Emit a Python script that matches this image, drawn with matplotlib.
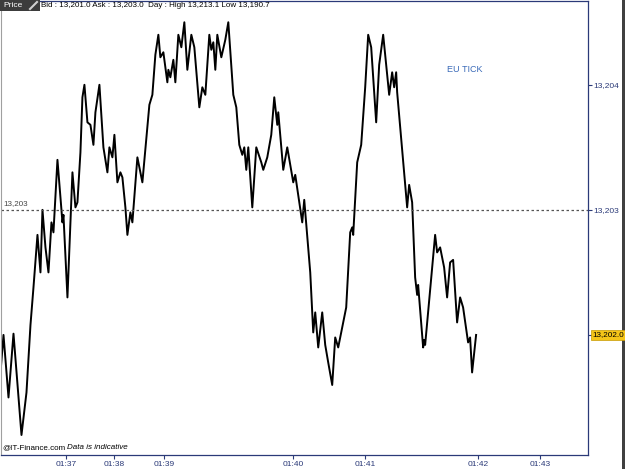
import matplotlib
matplotlib.use("Agg")
import matplotlib.pyplot as plt
import matplotlib.transforms as mtransforms
from matplotlib.patches import Rectangle

# tick number (x) and price
ticks = [0, 3, 8, 13, 21, 26, 30, 33, 37, 40, 42, 45, 48, 51, 53, 57, 62, 63, 67,
         72, 75, 77, 80, 82, 84, 87, 90, 93, 95, 99, 103, 107, 109, 112, 114, 117,
         120, 122, 125, 127, 130, 132, 137, 142, 149, 152, 155, 158, 160, 163, 167,
         168, 170, 173, 175, 178, 181, 184, 187, 191, 194, 199, 202, 205, 209, 211,
         213, 215, 217, 221, 225, 228, 233, 236, 239, 242, 244, 246, 248, 252, 256,
         261, 263, 267, 271, 274, 277, 278, 283, 287, 293, 295, 299, 302, 304, 310,
         313, 315, 318, 322, 325, 328, 332, 335, 338, 343, 346, 350, 352, 353, 357,
         361, 365, 368, 371, 376, 379, 383, 387, 389, 392, 394, 396, 397, 407, 409,
         412, 415, 417, 418, 423, 424, 425, 435, 437, 440, 444, 447, 450, 453, 457,
         460, 463, 468, 470, 472, 476]
prices = [13201.70, 13202.00, 13201.50, 13202.01, 13201.20, 13201.54, 13202.08,
          13202.38, 13202.80, 13202.50, 13203.00, 13202.70, 13202.50, 13202.90,
          13202.82, 13203.40, 13202.90, 13202.96, 13202.30, 13203.30, 13203.02,
          13203.06, 13203.46, 13203.90, 13204.00, 13203.70, 13203.68, 13203.52,
          13203.78, 13204.00, 13203.50, 13203.30, 13203.50, 13203.42, 13203.60,
          13203.22, 13203.30, 13203.26, 13203.02, 13202.80, 13202.98, 13202.90,
          13203.42, 13203.22, 13203.84, 13203.92, 13204.24, 13204.40, 13204.22,
          13204.26, 13204.02, 13204.12, 13204.06, 13204.20, 13204.02, 13204.40,
          13204.30, 13204.50, 13204.12, 13204.40, 13204.30, 13203.82, 13203.98,
          13203.92, 13204.40, 13204.28, 13204.34, 13204.12, 13204.40, 13204.22,
          13204.36, 13204.50, 13203.92, 13203.82, 13203.52, 13203.44, 13203.50,
          13203.32, 13203.50, 13203.02, 13203.50, 13203.38, 13203.32, 13203.42,
          13203.60, 13203.90, 13203.68, 13203.78, 13203.32, 13203.50, 13203.22,
          13203.28, 13203.06, 13202.90, 13203.08, 13202.50, 13202.02, 13202.18,
          13201.90, 13202.18, 13201.92, 13201.78, 13201.60, 13201.98, 13201.90,
          13202.10, 13202.22, 13202.82, 13202.86, 13202.80, 13203.38, 13203.52,
          13203.98, 13204.40, 13204.30, 13203.70, 13204.16, 13204.40, 13204.08,
          13203.92, 13204.10, 13203.98, 13204.10, 13203.94, 13203.02, 13203.20,
          13203.06, 13202.46, 13202.32, 13202.40, 13201.90, 13201.96, 13201.92,
          13202.80, 13202.66, 13202.70, 13202.54, 13202.30, 13202.58, 13202.60,
          13202.10, 13202.30, 13202.22, 13201.94, 13201.98, 13201.70, 13202.00]

time_pos = [66, 114, 164, 293, 365, 478, 540]
time_labels = ["01:37", "01:38", "01:39", "01:40", "01:41", "01:42", "01:43"]
price_ticks = [13202, 13203, 13204]
price_labels = ["", "13,203", "13,204"]
last_price = 13202.0
ref_price = 13203
header = "Bid : 13,201.0 Ask : 13,203.0  Day : High 13,213.1 Low 13,190.7"

plt.rcParams["font.family"] = ["Liberation Sans", "DejaVu Sans"]
navy = "#2b3a78"

W, H = 625, 469
fig = plt.figure(figsize=(W / 100, H / 100), dpi=100)
fig.patch.set_facecolor("white")
ax = fig.add_axes([0.5 / W, (H - 455) / H, 587.5 / W, 454 / H])

ax.plot(ticks, prices, color="black", linewidth=1.4)
ax.axhline(ref_price, color="#555555", linewidth=0.9, linestyle=(0, (2, 2)))
ax.text(3, ref_price + 0.02, "13,203", fontsize=5.8, color="#444444",
        ha="left", va="bottom")
ax.text(447, 13204.12, "EU TICK", fontsize=6.5, color="#3a6ab8",
        ha="left", va="center")

ax.set_xlim(0, 588)
ax.set_ylim(13201.04, 13204.67)

ax.set_xticks(time_pos, time_labels)
ax.yaxis.tick_right()
ax.set_yticks(price_ticks, price_labels)
ax.tick_params(direction="out", length=3, width=0.8, colors=navy,
               labelsize=6.0, pad=1.5)
ax.tick_params(axis="y", pad=1)
for side in ["top", "right", "bottom"]:
    ax.spines[side].set_color(navy)
    ax.spines[side].set_linewidth(0.9)
ax.spines["left"].set_color("#a0a0a0")

# last price marker on the right scale
trans = mtransforms.blended_transform_factory(ax.transAxes, ax.transData)
ax.text(1.0 + 4 / 587.5, last_price, "13,202.0", transform=trans, fontsize=5.9,
        color="black", ha="left", va="center", zorder=5,
        bbox=dict(boxstyle="square,pad=0.15", fc="#f5c518", ec="#c89a00", lw=0.5))

ax.text(2, 13201.04 + 0.03, "@IT-Finance.com", fontsize=5.8, color="black",
        ha="left", va="bottom")
ax.text(67, 13201.04 + 0.03, "Data is indicative", fontsize=5.8, color="black",
        style="italic", ha="left", va="bottom")

# header bar
fig.add_artist(Rectangle((0, (H - 11) / H), 40 / W, 11 / H,
                         transform=fig.transFigure, fc="#3c3c3c", ec="none"))
fig.text(3 / W, (H - 5.5) / H, "Price", fontsize=6, color="white", va="center")
fig.add_artist(plt.Line2D([30 / W, 37 / W], [(H - 9) / H, (H - 2) / H],
                          color="#d0d0d0", linewidth=1.5))
fig.text(41 / W, (H - 5.5) / H, header, fontsize=5.8, color="black", va="center")

# window edge on the right, behind the axes
edge = Rectangle((622 / W, 0), 3 / W, 1, transform=fig.transFigure,
                 fc="#404040", ec="none", zorder=-1)
fig.add_artist(edge)

fig.savefig("out.png", dpi=100)
